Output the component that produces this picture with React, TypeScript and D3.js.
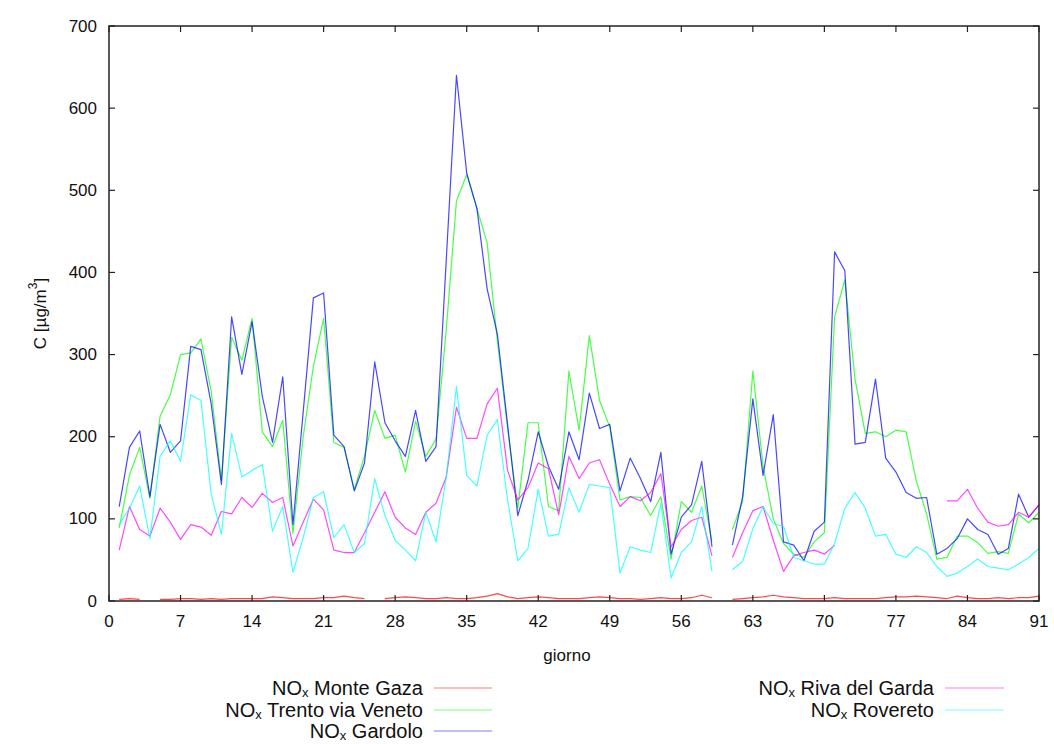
import React from "react";
import * as d3 from "d3";

// Daily NOx concentrations (µg/m³) for the 91-day period; null = no measurement
const days: number[] = d3.range(1, 92);

const monteGaza: (number | null)[] = [
  2, 3, 2, null, 2, 2, 3, 3, 2, 3, 2, 3, 3, 3, 3, 5, 4, 3, 3, 3,
  4, 4, 6, 4, 3, null, 3, 4, 5, 4, 3, 3, 4, 3, 3, 4, 6, 9, 5, 3,
  4, 5, 4, 3, 3, 3, 4, 5, 4, 3, 3, 2, 3, 4, 3, 3, 4, 7, 4, null,
  2, 3, 4, 5, 7, 5, 4, 3, 3, 3, 4, 3, 3, 3, 3, 4, 5, 5, 6, 5,
  4, 3, 6, 4, 3, 3, 4, 3, 4, 4, 6,
];

const trentoVeneto: (number | null)[] = [
  89, 153, 187, 125, 225, 251, 300, 302, 319, 255, 147, 321, 293, 344, 206, 188, 220, 82, 200, 286,
  344, 193, 187, 136, 176, 232, 198, 202, 157, 219, 176, 197, 330, 487, 519, 478, 436, 317, 210, 113,
  217, 217, 115, 110, 280, 208, 323, 244, 212, 123, 127, 126, 104, 127, 51, 121, 108, 140, 72, null,
  87, 121, 280, 164, 100, 70, 57, 53, 72, 83, 346, 391, 270, 204, 206, 200, 208, 206, 146, 106,
  51, 53, 79, 79, 71, 58, 60, 58, 106, 95, 108,
];

const gardolo: (number | null)[] = [
  115, 187, 207, 127, 215, 181, 195, 310, 306, 240, 142, 346, 276, 340, 249, 193, 273, 93, 230, 369,
  375, 202, 188, 134, 168, 291, 217, 195, 176, 232, 170, 188, 415, 640, 521, 478, 380, 325, 215, 104,
  147, 206, 164, 136, 206, 172, 253, 210, 215, 134, 174, 149, 121, 181, 57, 102, 117, 170, 66, null,
  68, 127, 246, 153, 227, 72, 68, 49, 85, 96, 425, 402, 191, 193, 270, 174, 157, 132, 125, 126,
  57, 64, 76, 100, 87, 81, 57, 64, 130, 102, 117,
];

const rivaGarda: (number | null)[] = [
  62, 115, 87, 79, 113, 96, 75, 93, 90, 80, 109, 106, 126, 114, 131, 120, 126, 67, 96, 124,
  111, 62, 59, 59, 83, 108, 133, 102, 89, 81, 108, 119, 151, 236, 198, 198, 240, 259, 159, 123,
  138, 168, 161, 105, 176, 149, 168, 172, 142, 115, 127, 122, 132, 155, 66, 87, 98, 102, 55, null,
  53, 83, 110, 115, 74, 36, 55, 59, 62, 57, 68, null, null, null, null, null, null, null, null, null,
  null, 122, 122, 136, 113, 96, 91, 93, 108, 102, 117,
];

const rovereto: (number | null)[] = [
  93, 113, 140, 76, 176, 195, 170, 251, 244, 130, 81, 204, 151, 159, 166, 85, 115, 35, 77, 126,
  133, 77, 93, 59, 70, 149, 104, 74, 62, 49, 108, 72, 151, 261, 153, 140, 202, 221, 123, 49,
  64, 136, 79, 81, 138, 108, 142, 140, 138, 34, 66, 62, 59, 119, 28, 59, 72, 115, 36, null,
  38, 48, 88, 115, 94, 91, 53, 49, 45, 45, 70, 113, 132, 113, 79, 81, 57, 53, 66, 59,
  42, 30, 34, 42, 51, 42, 40, 38, 45, 53, 64,
];

const seriesNames: string[] = ["Monte Gaza", "Trento via Veneto", "Gardolo", "Riva del Garda", "Rovereto"];
const seriesColors: string[] = ["#ff0000", "#00ff00", "#0000ff", "#ff00ff", "#00ffff"];
const seriesValues = [monteGaza, trentoVeneto, gardolo, rivaGarda, rovereto];

const xTicks: number[] = [0, 7, 14, 21, 28, 35, 42, 49, 56, 63, 70, 77, 84, 91];
const yTicks: number[] = [0, 100, 200, 300, 400, 500, 600, 700];

const W = 1054;
const H = 744;
const plot = { left: 109, right: 1039, top: 26, bottom: 601 };
const FONT = "'Liberation Sans', Arial, sans-serif";
const FS = 17;
const LEGEND_FS = 20;
const TICK = 6;

// legend placement: two columns, text right-aligned before a short line sample
const legendCols = [
  { textX: 423, lineX1: 434, lineX2: 492 },
  { textX: 934, lineX1: 945, lineX2: 1004 },
];
const legendRows = [688, 710, 731];
const legendSlots = [
  [0, 0],
  [0, 1],
  [0, 2],
  [1, 0],
  [1, 1],
];

export default function App() {
  const x = d3.scaleLinear().domain([0, 91]).range([plot.left, plot.right]);
  const y = d3.scaleLinear().domain([0, 700]).range([plot.bottom, plot.top]);

  const line = d3
    .line<number | null>()
    .defined((d) => d != null)
    .x((_, i) => x(days[i]))
    .y((d) => y(d as number));

  const axisColor = "#222";

  return (
    <svg
      width={W}
      height={H}
      style={{ position: "absolute", left: 0, top: 0, background: "#fff" }}
      fontFamily={FONT}
    >
      <rect x={0} y={0} width={W} height={H} fill="#fff" />

      {/* data lines */}
      {seriesValues.map((vals, k) => (
        <path
          key={seriesNames[k]}
          d={line(vals) ?? ""}
          fill="none"
          stroke={seriesColors[k]}
          strokeWidth={1.2}
          strokeOpacity={0.72}
          strokeLinejoin="round"
        />
      ))}

      {/* frame */}
      <rect
        x={plot.left}
        y={plot.top}
        width={plot.right - plot.left}
        height={plot.bottom - plot.top}
        fill="none"
        stroke={axisColor}
        strokeWidth={1.5}
      />

      {/* y ticks, mirrored on the right */}
      {yTicks.map((t) => (
        <g key={"y" + t}>
          <line x1={plot.left} x2={plot.left + TICK} y1={y(t)} y2={y(t)} stroke={axisColor} strokeWidth={1.2} />
          <line x1={plot.right} x2={plot.right - TICK} y1={y(t)} y2={y(t)} stroke={axisColor} strokeWidth={1.2} />
          <text x={plot.left - 12} y={y(t)} textAnchor="end" dominantBaseline="central" fontSize={FS} fill="#111">
            {t}
          </text>
        </g>
      ))}

      {/* x ticks, mirrored on top */}
      {xTicks.map((t) => (
        <g key={"x" + t}>
          <line x1={x(t)} x2={x(t)} y1={plot.bottom} y2={plot.bottom - TICK} stroke={axisColor} strokeWidth={1.2} />
          <line x1={x(t)} x2={x(t)} y1={plot.top} y2={plot.top + TICK} stroke={axisColor} strokeWidth={1.2} />
          <text x={x(t)} y={plot.bottom + 20} textAnchor="middle" dominantBaseline="central" fontSize={FS} fill="#111">
            {t}
          </text>
        </g>
      ))}

      {/* axis titles */}
      <text x={567} y={655} textAnchor="middle" dominantBaseline="central" fontSize={FS} fill="#111">
        giorno
      </text>
      <text
        transform={`translate(40, ${(plot.top + plot.bottom) / 2}) rotate(-90)`}
        textAnchor="middle"
        dominantBaseline="central"
        fontSize={FS}
        fill="#111"
      >
        <tspan>C [µg/m</tspan>
        <tspan dy={-7} fontSize={12}>3</tspan>
        <tspan dy={7}>]</tspan>
      </text>

      {/* legend */}
      {seriesNames.map((name, k) => {
        const [c, r] = legendSlots[k];
        const col = legendCols[c];
        const ly = legendRows[r];
        return (
          <g key={"leg" + name}>
            <text x={col.textX} y={ly} textAnchor="end" dominantBaseline="central" fontSize={LEGEND_FS} fill="#111">
              <tspan>NO</tspan>
              <tspan dy={4} fontSize={13}>x</tspan>
              <tspan dy={-4}>{" " + name}</tspan>
            </text>
            <line
              x1={col.lineX1}
              x2={col.lineX2}
              y1={ly}
              y2={ly}
              stroke={seriesColors[k]}
              strokeWidth={1.6}
              strokeOpacity={0.35}
            />
          </g>
        );
      })}
    </svg>
  );
}
